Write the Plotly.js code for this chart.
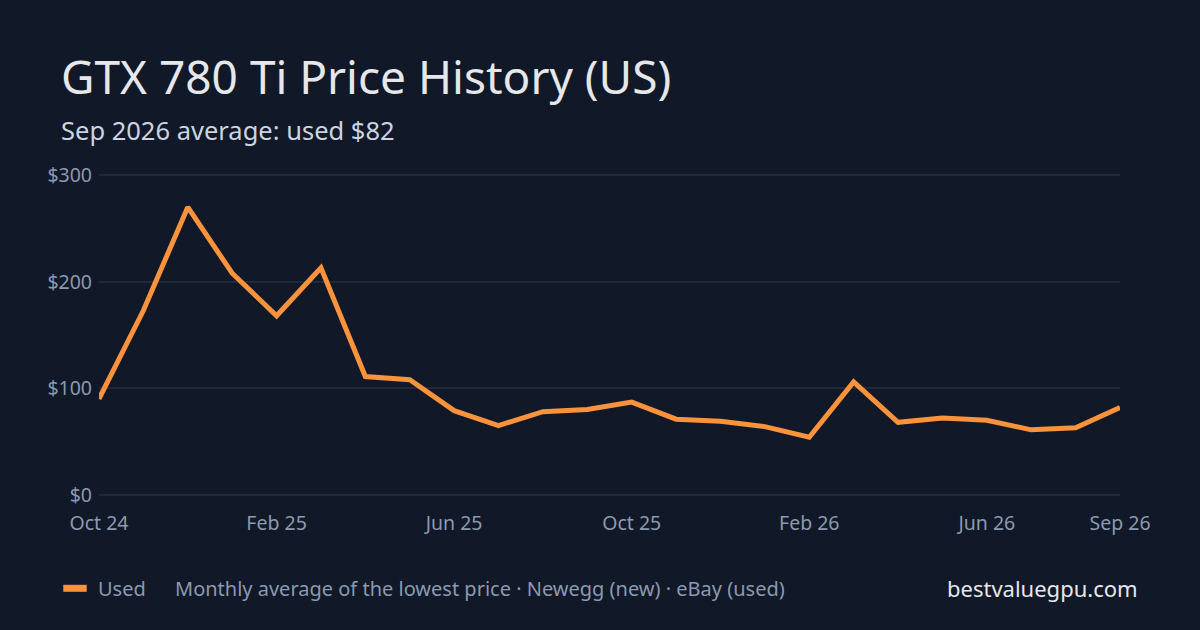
<!DOCTYPE html>
<html>
<head>
<meta charset="utf-8">
<script src="https://cdn.plot.ly/plotly-3.0.1.min.js"></script>
<style>
  html, body { margin: 0; padding: 0; background: #111827; }
  #chart { width: 1200px; height: 630px; }
</style>
</head>
<body>
<div id="chart"></div>
<script>
// Months shown on the x axis, one point per month
var months = ['Oct 24', 'Nov 24', 'Dec 24', 'Jan 25', 'Feb 25', 'Mar 25', 'Apr 25', 'May 25',
              'Jun 25', 'Jul 25', 'Aug 25', 'Sep 25', 'Oct 25', 'Nov 25', 'Dec 25', 'Jan 26',
              'Feb 26', 'Mar 26', 'Apr 26', 'May 26', 'Jun 26', 'Jul 26', 'Aug 26', 'Sep 26'];

// Used price (monthly average of the lowest price, eBay)
var usedPrice = [90, 173, 270, 208, 168, 213, 111, 108,
                 79, 65, 78, 80, 87, 71, 69, 64,
                 54, 106, 68, 72, 70, 61, 63, 82];

// Tick labels that are actually shown
var xTicks = ['Oct 24', 'Feb 25', 'Jun 25', 'Oct 25', 'Feb 26', 'Jun 26', 'Sep 26'];
var yTicks = [0, 100, 200, 300];
var yTickText = ['$0', '$100', '$200', '$300'];

var font = 'Noto Sans, Open Sans, sans-serif';
var muted = '#8b9ab0';

var trace = {
  x: months,
  y: usedPrice,
  type: 'scatter',
  mode: 'lines',
  name: 'Used',
  line: { color: '#fb923c', width: 5 },
  cliponaxis: false,
  hoverinfo: 'skip'
};

// plot area padded a little above/below so the $0 and $300 grid lines are kept
var layout = {
  width: 1200,
  height: 630,
  paper_bgcolor: '#111827',
  plot_bgcolor: '#111827',
  font: { family: font, color: muted },
  showlegend: false,
  margin: { l: 99, r: 80, t: 171.8, b: 131.8 },
  xaxis: {
    type: 'category',
    range: [0, months.length - 1],
    tickvals: xTicks,
    ticktext: xTicks,
    showgrid: false,
    zeroline: false,
    showline: false,
    ticks: '',
    ticklabelstandoff: 11,
    tickfont: { size: 19.5, color: muted }
  },
  yaxis: {
    range: [-3, 303],
    tickvals: yTicks,
    ticktext: yTickText,
    showgrid: true,
    gridcolor: '#1f2937',
    gridwidth: 2,
    zeroline: false,
    showline: false,
    ticks: '',
    ticklabelstandoff: 6,
    tickfont: { size: 19.5, color: muted }
  },
  shapes: [
    // legend swatch
    { type: 'line', xref: 'paper', yref: 'paper',
      x0: -0.035, x1: -0.012, y0: -0.277, y1: -0.277,
      line: { color: '#fb923c', width: 7 } }
  ],
  annotations: [
    { text: 'GTX 780 Ti Price History (US)', xref: 'paper', yref: 'paper',
      x: -0.0392, y: 1.294, xanchor: 'left', yanchor: 'middle', showarrow: false,
      font: { size: 46, color: '#e5e7eb', family: font } },
    { text: 'Sep 2026 average: used $82', xref: 'paper', yref: 'paper',
      x: -0.0392, y: 1.128, xanchor: 'left', yanchor: 'middle', showarrow: false,
      font: { size: 25.5, color: '#cbd5e1', family: font } },
    { text: 'Used', xref: 'paper', yref: 'paper',
      x: -0.0031, y: -0.277, xanchor: 'left', yanchor: 'middle', showarrow: false,
      font: { size: 20, color: muted, family: font } },
    { text: 'Monthly average of the lowest price · Newegg (new) · eBay (used)', xref: 'paper', yref: 'paper',
      x: 0.0725, y: -0.277, xanchor: 'left', yanchor: 'middle', showarrow: false,
      font: { size: 20, color: muted, family: font } },
    { text: 'bestvaluegpu.com', xref: 'paper', yref: 'paper',
      x: 1.0196, y: -0.277, xanchor: 'right', yanchor: 'middle', showarrow: false,
      font: { size: 22, color: '#e5e7eb', family: font } }
  ]
};

Plotly.newPlot('chart', [trace], layout, { displayModeBar: false, staticPlot: true });
</script>
</body>
</html>
